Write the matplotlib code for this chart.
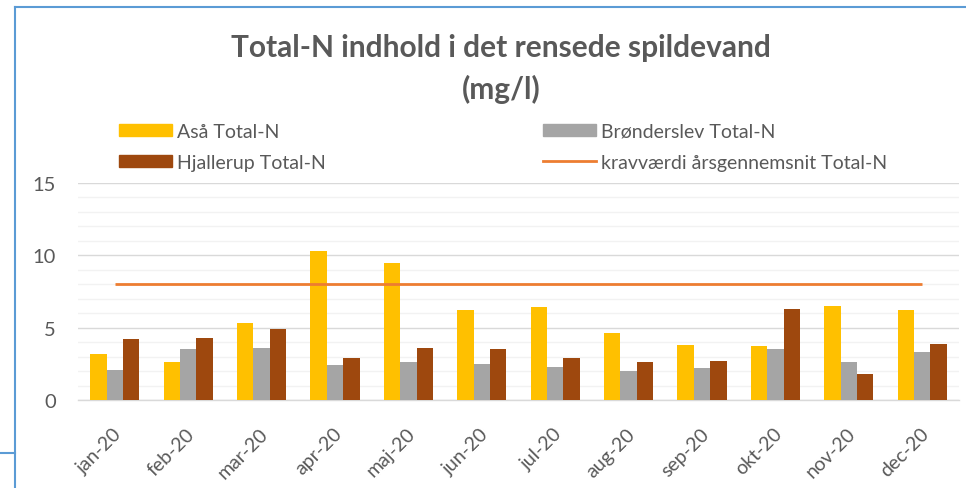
import matplotlib
matplotlib.use("Agg")
import matplotlib.pyplot as plt
import matplotlib.transforms as mtrans
import numpy as np
from matplotlib.patches import Patch
from matplotlib.lines import Line2D

months = ["jan-20", "feb-20", "mar-20", "apr-20", "maj-20", "jun-20",
          "jul-20", "aug-20", "sep-20", "okt-20", "nov-20", "dec-20"]
asaa = [3.2, 2.6, 5.3, 10.3, 9.5, 6.2, 6.4, 4.6, 3.8, 3.7, 6.5, 6.2]
broenderslev = [2.1, 3.5, 3.6, 2.4, 2.6, 2.5, 2.3, 2.0, 2.2, 3.5, 2.6, 3.3]
hjallerup = [4.2, 4.3, 4.9, 2.9, 3.6, 3.5, 2.9, 2.6, 2.7, 6.3, 1.8, 3.9]
krav = [8] * 12

names = ["Aså Total-N", "Brønderslev Total-N", "Hjallerup Total-N",
         "kravværdi årsgennemsnit Total-N"]
colors = ["#FFC000", "#A5A5A5", "#9E480E", "#ED7D31"]
title = "Total-N indhold i det rensede spildevand\n(mg/l)"

plt.rcParams['font.family'] = ['Lato', 'DejaVu Sans']
txt = "#595959"

W, H = 966, 489
fig = plt.figure(figsize=(W / 100, H / 100), dpi=100)
ax = fig.add_axes([78 / W, 1 - 401 / H, 881 / W, 217 / H])

x = np.arange(len(months))
bw = 0.223
for i, (vals, c) in enumerate(zip([asaa, broenderslev, hjallerup], colors)):
    ax.bar(x + (i - 1) * bw, vals, width=bw, color=c, zorder=3, linewidth=0)
ax.plot(x, krav, color=colors[3], lw=2.0, zorder=4, solid_capstyle='butt')

ax.set_xlim(-0.5, len(months) - 0.5)
ax.set_ylim(0, 15)
ax.set_yticks([0, 5, 10, 15])
ax.set_yticks(np.arange(0, 16, 1), minor=True)
ax.grid(axis='y', which='major', color='#D9D9D9', lw=1.0, zorder=0)
ax.grid(axis='y', which='minor', color='#F2F2F2', lw=1.0, zorder=0)
for s in ['top', 'right', 'left']:
    ax.spines[s].set_visible(False)
ax.spines['bottom'].set_color('#D9D9D9')
ax.spines['bottom'].set_linewidth(1.0)
ax.tick_params(axis='both', which='both', length=0, colors=txt, labelsize=14.5)
ax.tick_params(axis='y', pad=16)
ax.tick_params(axis='x', pad=22, labelsize=14)
ax.set_xticks(x)
ax.set_xticklabels(months, rotation=45, ha='right', va='center', rotation_mode='anchor')
shift = mtrans.ScaledTranslation(4 / 100, 0, fig.dpi_scale_trans)
for lab in ax.get_xticklabels():
    lab.set_transform(lab.get_transform() + shift)

fig.text(501 / W, 1 - 69 / H, title, ha='center', va='center', fontsize=21.5,
         fontweight='bold', color=txt, linespacing=1.55)

h1 = [Patch(color=colors[0]), Patch(color=colors[2])]
h2 = [Patch(color=colors[1]), Line2D([], [], color=colors[3], lw=2.0)]
common = dict(frameon=False, borderpad=0, borderaxespad=0, fontsize=14,
              handlelength=2.7, handleheight=0.6, handletextpad=0.3,
              labelspacing=0.72, labelcolor=txt, loc='upper left')
leg1 = fig.legend(h1, [names[0], names[2]], bbox_to_anchor=(119 / W, 1 - 124 / H), **common)
leg2 = fig.legend(h2, [names[1], names[3]], bbox_to_anchor=(543 / W, 1 - 124 / H), **common)

# screenshot frame lines
fig.add_artist(Line2D([15 / W, 15 / W], [0, 1 - 8 / H], color='#5B9BD5', lw=1.5))
fig.add_artist(Line2D([15 / W, 1], [1 - 8 / H, 1 - 8 / H], color='#5B9BD5', lw=1.5))
fig.add_artist(Line2D([0, 15 / W], [1 - 454 / H, 1 - 454 / H], color='#5B9BD5', lw=1.5))

fig.savefig("out.png", dpi=100)
